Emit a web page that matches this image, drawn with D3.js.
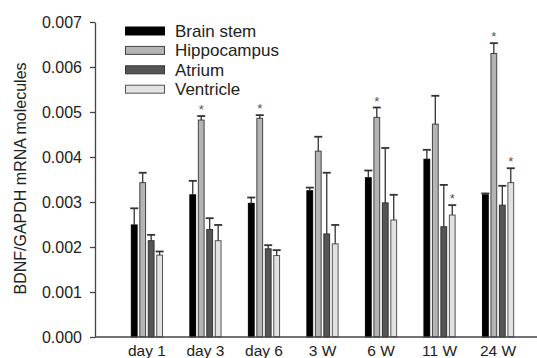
<!DOCTYPE html>
<html>
<head>
<meta charset="utf-8">
<script src="https://cdn.jsdelivr.net/npm/d3@7"></script>
<style>
  body { margin: 0; background: #fff; }
  text { font-family: Arial, "Liberation Sans", sans-serif; fill: #222; }
</style>
</head>
<body>
<div id="chart"></div>
<script>
// chart values
const categories = ["day 1", "day 3", "day 6", "3 W", "6 W", "11 W", "24 W"];
const seriesNames = ["Brain stem", "Hippocampus", "Atrium", "Ventricle"];
const brainStem = [0.00249, 0.00316, 0.00297, 0.00325, 0.00354, 0.00395, 0.00316];
const brainStemErr = [0.00037, 0.00031, 0.00013, 0.00007, 0.00016, 0.00021, 0.00003];
const hippocampus = [0.00343, 0.00482, 0.00486, 0.00413, 0.00488, 0.00473, 0.0063];
const hippocampusErr = [0.00022, 0.00009, 0.00007, 0.00032, 0.00022, 0.00063, 0.00023];
const atrium = [0.00214, 0.00239, 0.00196, 0.00229, 0.00298, 0.00245, 0.00293];
const atriumErr = [0.00013, 0.00025, 0.00008, 0.00136, 0.00122, 0.00093, 0.00043];
const ventricle = [0.00182, 0.00214, 0.00181, 0.00207, 0.0026, 0.00271, 0.00343];
const ventricleErr = [0.00008, 0.00035, 0.00012, 0.00042, 0.00056, 0.00022, 0.00032];
// significance markers (*)
const hippocampusSig = [0, 1, 1, 0, 1, 0, 1];
const ventricleSig = [0, 0, 0, 0, 0, 1, 1];
const yTicks = [0, 0.001, 0.002, 0.003, 0.004, 0.005, 0.006, 0.007];

const fills = ["#000000", "#b4b4b4", "#555555", "#e2e2e2"];
const strokes = ["#000000", "#444444", "#333333", "#555555"];

const width = 537, height = 358;
const plotLeft = 95, plotTop = 22, plotBottom = 337, plotRight = 537;

const series = [
  { name: seriesNames[0], values: brainStem, err: brainStemErr, sig: null },
  { name: seriesNames[1], values: hippocampus, err: hippocampusErr, sig: hippocampusSig },
  { name: seriesNames[2], values: atrium, err: atriumErr, sig: null },
  { name: seriesNames[3], values: ventricle, err: ventricleErr, sig: ventricleSig }
];

const svg = d3.select("#chart").append("svg")
  .attr("width", width)
  .attr("height", height);

const x = d3.scaleBand()
  .domain(categories)
  .range([104.5, 540.5])
  .paddingInner(0.45)
  .paddingOuter(0.45);

const xSub = d3.scaleBand()
  .domain(d3.range(series.length))
  .range([0, x.bandwidth()])
  .paddingInner(0.2);

const y = d3.scaleLinear()
  .domain([0, 0.007])
  .range([plotBottom, plotTop]);

// bars
const groups = svg.selectAll("g.group")
  .data(categories)
  .enter()
  .append("g")
  .attr("class", "group")
  .attr("transform", d => `translate(${x(d)},0)`);

series.forEach((s, si) => {
  groups.append("rect")
    .attr("x", xSub(si) + 0.5)
    .attr("y", (d, i) => y(s.values[i]))
    .attr("width", xSub.bandwidth() - 1)
    .attr("height", (d, i) => y(0) - y(s.values[i]))
    .attr("fill", fills[si])
    .attr("stroke", strokes[si])
    .attr("stroke-width", 1);

  // error bars (upper only)
  const cx = xSub(si) + xSub.bandwidth() / 2;
  groups.append("line")
    .attr("x1", cx).attr("x2", cx)
    .attr("y1", (d, i) => y(s.values[i]))
    .attr("y2", (d, i) => y(s.values[i] + s.err[i]))
    .attr("stroke", "#333")
    .attr("stroke-width", 1.3);
  groups.append("line")
    .attr("x1", cx - 4).attr("x2", cx + 4)
    .attr("y1", (d, i) => y(s.values[i] + s.err[i]))
    .attr("y2", (d, i) => y(s.values[i] + s.err[i]))
    .attr("stroke", "#333")
    .attr("stroke-width", 1.8);

  if (s.sig) {
    groups.filter((d, i) => s.sig[i])
      .append("text")
      .attr("x", cx)
      .attr("y", d => y(s.values[categories.indexOf(d)] + s.err[categories.indexOf(d)]) - 2)
      .attr("text-anchor", "middle")
      .style("font-size", "13px")
      .style("fill", "#555")
      .text("*");
  }
});

// y axis
const yAxis = d3.axisLeft(y)
  .tickValues(yTicks)
  .tickFormat(d3.format(".3f"))
  .tickSize(5)
  .tickSizeOuter(0)
  .tickPadding(8);

const gy = svg.append("g")
  .attr("transform", `translate(${plotLeft},0)`)
  .call(yAxis);
gy.select(".domain").attr("stroke", "#444").attr("stroke-width", 1.3);
gy.selectAll(".tick line").attr("stroke", "#444").attr("stroke-width", 1.3);
gy.selectAll(".tick text")
  .style("font-size", "16px")
  .style("font-family", "Arial, 'Liberation Sans', sans-serif")
  .attr("fill", "#222");

// x axis line and labels
svg.append("line")
  .attr("x1", plotLeft).attr("x2", plotRight)
  .attr("y1", plotBottom).attr("y2", plotBottom)
  .attr("stroke", "#444")
  .attr("stroke-width", 1.3);

const xAxis = d3.axisBottom(x).tickSize(0).tickPadding(8);
const gx = svg.append("g")
  .attr("transform", `translate(0,${plotBottom})`)
  .call(xAxis);
gx.select(".domain").remove();
gx.selectAll(".tick text")
  .style("font-size", "15.5px")
  .style("font-family", "Arial, 'Liberation Sans', sans-serif")
  .attr("fill", "#222");

// y title
svg.append("text")
  .attr("transform", `translate(26,${(52 + 305) / 2}) rotate(-90)`)
  .attr("text-anchor", "middle")
  .style("font-size", "16px")
  .text("BDNF/GAPDH mRNA molecules");

// legend
const legend = svg.append("g")
  .attr("transform", "translate(125,27)");
series.forEach((s, si) => {
  const row = legend.append("g").attr("transform", `translate(0,${si * 19.4})`);
  row.append("rect")
    .attr("x", 0.5).attr("y", 0)
    .attr("width", 39).attr("height", 8)
    .attr("fill", fills[si])
    .attr("stroke", strokes[si]);
  row.append("text")
    .attr("x", 50).attr("y", 10)
    .style("font-size", "17px")
    .text(s.name);
});
</script>
</body>
</html>
